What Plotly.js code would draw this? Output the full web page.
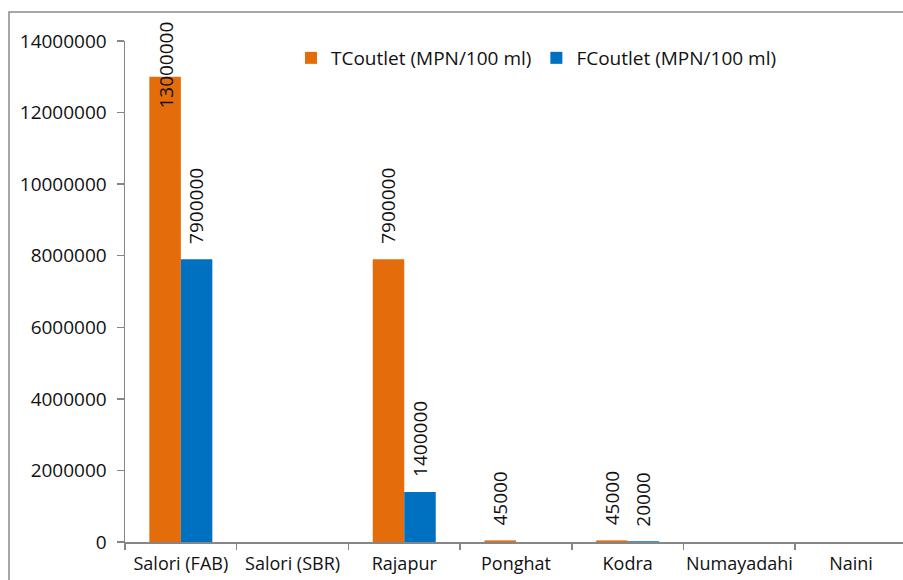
<!DOCTYPE html>
<html>
<head>
<meta charset="utf-8">
<script src="https://cdn.plot.ly/plotly-3.0.1.min.js"></script>
<style>html,body{margin:0;padding:0;background:#fff;}#chart{width:903px;height:580px;}</style>
</head>
<body>
<div id="chart"></div>
<script>
const categories = ["Salori (FAB)", "Salori (SBR)", "Rajapur", "Ponghat", "Kodra", "Numayadahi", "Naini"];
const tcValues = [13000000, null, 7900000, 45000, 45000, null, null];
const fcValues = [7900000, null, 1400000, null, 20000, null, null];
const seriesNames = ["TCoutlet (MPN/100 ml)", "FCoutlet (MPN/100 ml)"];
const yTicks = [0, 2000000, 4000000, 6000000, 8000000, 10000000, 12000000, 14000000];

const FONT = "Open Sans, sans-serif";
const FS = 19;
const W = 903, H = 580;
const M = {l: 125, r: 0, t: 41, b: 38};
const plotH = H - M.t - M.b;
const plotW = W - M.l - M.r;
const yMax = 14000000;
const bargap = 0.436;
const half = (1 - bargap) / 4;

const traces = [
  {type: "bar", name: seriesNames[0], x: categories, y: tcValues, marker: {color: "#E46C0A"}},
  {type: "bar", name: seriesNames[1], x: categories, y: fcValues, marker: {color: "#0070C0"}}
];

const annotations = [];
[[tcValues, -half], [fcValues, half]].forEach(([vals, off]) => {
  vals.forEach((v, i) => {
    if (v === null) return;
    const txt = String(v);
    const bottomPx = M.t + plotH - v / yMax * plotH - 17;
    const topPx = bottomPx - txt.length * 10.6;
    const base = {text: txt, showarrow: false, textangle: -90, xref: "x", x: i + off,
      font: {family: FONT, size: FS, color: "#111"}};
    if (topPx < 22) {
      annotations.push(Object.assign(base, {yref: "paper", y: (H - M.b - 20) / plotH, yanchor: "top"}));
    } else {
      annotations.push(Object.assign(base, {yref: "y", y: v, yanchor: "bottom", yshift: 13}));
    }
  });
});

const layout = {
  width: W, height: H,
  margin: M,
  paper_bgcolor: "#fff", plot_bgcolor: "#fff",
  font: {family: FONT, size: FS, color: "#111"},
  barmode: "group", bargap: bargap, bargroupgap: 0,
  showlegend: true,
  legend: {orientation: "h", x: (291 - M.l) / plotW, xanchor: "left", y: (H - M.b - 58) / plotH, yanchor: "middle",
    font: {family: FONT, size: FS, color: "#111"}, bgcolor: "rgba(0,0,0,0)", traceorder: "normal"},
  xaxis: {type: "category", range: [-0.5, 6.465], showgrid: false, zeroline: false,
    showline: true, linecolor: "#868686", linewidth: 1.5, ticks: "outside", tickson: "boundaries",
    ticklen: 6, tickcolor: "#868686", tickwidth: 1.5, ticklabelstandoff: 5, tickangle: 0,
    tickfont: {family: FONT, size: 18, color: "#111"}},
  yaxis: {range: [0, yMax], tickvals: yTicks, ticktext: yTicks.map(String), showgrid: false, zeroline: false,
    showline: true, linecolor: "#868686", linewidth: 1.5, ticks: "outside", ticklen: 7, tickcolor: "#868686",
    tickwidth: 1.5, ticklabelstandoff: 6, tickfont: {family: FONT, size: FS, color: "#111"}},
  annotations: annotations,
  shapes: [{type: "rect", xref: "paper", yref: "paper",
    x0: (9 - M.l) / plotW, x1: (W + 20 - M.l) / plotW,
    y0: (H - M.b - (H + 20)) / plotH, y1: (H - M.b - 12) / plotH,
    line: {color: "#8a8a8a", width: 1.5}, layer: "below"}]
};

Plotly.newPlot("chart", traces, layout, {displayModeBar: false, staticPlot: true});
</script>
</body>
</html>
